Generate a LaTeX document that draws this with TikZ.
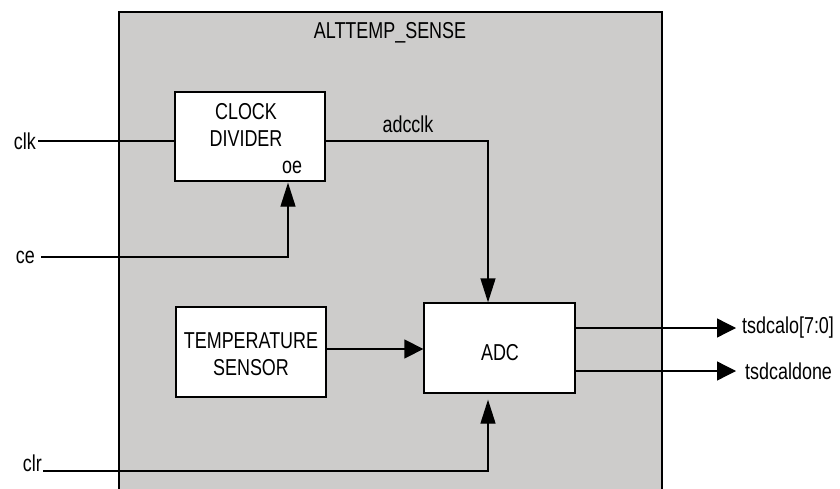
\documentclass[tikz,border=0pt]{standalone}
\usepackage{fontspec}
\setmainfont{Liberation Sans}[FakeStretch=0.78]
\usetikzlibrary{arrows.meta}
\definecolor{blockgray}{RGB}{205,204,203}
\tikzset{
  blk/.style={draw=black, line width=1.3pt, fill=white, inner sep=0pt},
  lbl/.style={inner sep=0pt, font=\fontsize{23}{27}\selectfont, align=center},
  wire/.style={line width=1.3pt},
  arrh/.style={wire, -{Triangle[length=19pt,width=19pt]}},
  arrv/.style={wire, -{Triangle[length=24pt,width=15pt]}},
}
\begin{document}
\begin{tikzpicture}[x=1pt,y=-1pt]
\useasboundingbox (0,0) rectangle (840,489);
% outer block
\fill[blockgray] (119,12) rectangle (662,489);
\draw[line width=1.3pt] (119,489) -- (119,12) -- (662,12) -- (662,489);
\node[lbl] (title) at (390,33) {ALTTEMP\_SENSE};
% blocks
\node[blk, minimum width=150pt, minimum height=89pt] (cd) at (250,136.5) {};
\node[lbl] (cdtxt) at (246,124.5) {CLOCK\\DIVIDER};
\node[lbl] (oe) at (292,167) {oe};
\node[blk, minimum width=150pt, minimum height=90pt] (ts) at (251,352) {};
\node[lbl] (tstxt) at (251,354) {TEMPERATURE\\SENSOR};
\node[blk, minimum width=151pt, minimum height=90pt] (adc) at (499.5,348) {};
\node[lbl] (adctxt) at (500,353) {ADC};
% inputs
\node[lbl, anchor=east] (clk) at (36,141) {clk};
\node[lbl, anchor=east] (ce) at (35,257) {ce};
\node[lbl, anchor=base east] (clr) at (42,471) {clr};
\coordinate (ceturn) at (288,257);
\coordinate (clrturn) at (488,471);
\coordinate (adcturn) at (488,141);
\draw[wire] (clk.east) ++(2,0) -- (cd.west |- clk.east);
\draw[arrv, shorten >=1pt] ([xshift=6pt]ce.east) -- (ceturn) -- (ceturn |- cd.south);
\draw[arrv, shorten >=6pt] ([xshift=1pt]clr.base east) -- (clrturn) -- (clrturn |- adc.south);
% internal
\node[lbl] (adcclk) at (408,124) {adcclk};
\draw[arrv] (cd.east |- adcturn) -- (adcturn) -- (adcturn |- adc.north);
\draw[arrh] (ts.east |- 0,349) -- (adc.west |- 0,349);
% outputs
\node[lbl, anchor=west] (o1) at (742,328) {tsdcalo[7:0]};
\node[lbl, anchor=west] (o2) at (745,371) {tsdcaldone};
\draw[arrh, shorten >=6pt] (adc.east |- o1.west) -- (o1.west);
\draw[arrh, shorten >=9pt] (adc.east |- o2.west) -- (o2.west);
\end{tikzpicture}
\end{document}
